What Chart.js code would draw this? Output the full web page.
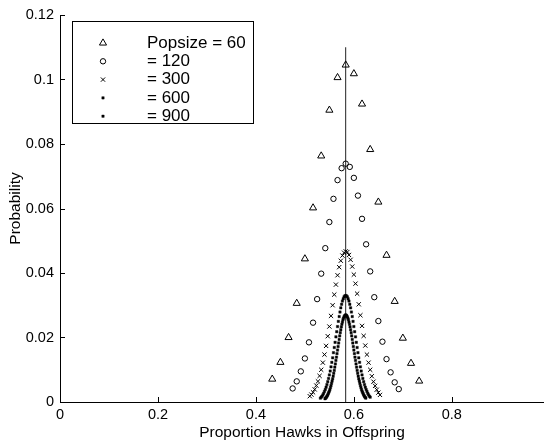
<!DOCTYPE html>
<html>
<head>
<meta charset="utf-8">
<script src="https://cdn.jsdelivr.net/npm/chart.js@4.4.0/dist/chart.umd.min.js"></script>
<style>
  html, body { margin: 0; padding: 0; background: #fff; }
  canvas { display: block; }
</style>
</head>
<body>
<canvas id="hawkChart" width="549" height="440"></canvas>
<script>
// population sizes and legend text
const popSizes = [60, 120, 300, 600, 900];
const legendLabels = ["Popsize = 60", "= 120", "= 300", "= 600", "= 900"];
// first hawk count plotted for each popsize (x = count / popsize)
const firstCount = [26, 57, 153, 319, 487];

// probabilities
const probs60 = [0.0071, 0.0123, 0.0200, 0.0306, 0.0444, 0.0602, 0.0763, 0.0905, 0.1006, 0.1045,
  0.1018, 0.0924, 0.0783, 0.0620, 0.0455, 0.0312, 0.0198, 0.0120, 0.0065];
const probs120 = [0.0042, 0.0064, 0.0095, 0.0135, 0.0185, 0.0246, 0.0319, 0.0398, 0.0477, 0.0558,
  0.0630, 0.0688, 0.0725, 0.0739, 0.0729, 0.0695, 0.0640, 0.0568, 0.0489, 0.0405,
  0.0325, 0.0251, 0.0187, 0.0133, 0.0092, 0.0061, 0.0040];
const probs300 = [0.0018, 0.0023, 0.0030, 0.0039, 0.0051, 0.0064, 0.0081, 0.0100, 0.0122, 0.0147,
  0.0174, 0.0204, 0.0234, 0.0267, 0.0300, 0.0333, 0.0364, 0.0393, 0.0418, 0.0438,
  0.0454, 0.0463, 0.0467, 0.0465, 0.0456, 0.0441, 0.0420, 0.0395, 0.0367, 0.0336,
  0.0303, 0.0269, 0.0236, 0.0205, 0.0175, 0.0147, 0.0122, 0.0100, 0.0080, 0.0063,
  0.0050, 0.0038, 0.0029, 0.0022];
const probs600 = [0.0012, 0.0015, 0.0018, 0.0022, 0.0027, 0.0033, 0.0039, 0.0046, 0.0054, 0.0063,
  0.0073, 0.0084, 0.0096, 0.0109, 0.0123, 0.0137, 0.0153, 0.0169, 0.0185, 0.0202,
  0.0218, 0.0234, 0.0250, 0.0265, 0.0279, 0.0292, 0.0303, 0.0313, 0.0320, 0.0326,
  0.0329, 0.0330, 0.0329, 0.0326, 0.0320, 0.0313, 0.0303, 0.0292, 0.0279, 0.0265,
  0.0250, 0.0234, 0.0218, 0.0202, 0.0185, 0.0169, 0.0153, 0.0137, 0.0123, 0.0109,
  0.0096, 0.0084, 0.0073, 0.0063, 0.0054, 0.0046, 0.0039, 0.0033, 0.0027, 0.0022,
  0.0018, 0.0015];
const probs900 = [0.0010, 0.0012, 0.0014, 0.0016, 0.0019, 0.0022, 0.0026, 0.0030, 0.0034, 0.0039,
  0.0045, 0.0051, 0.0058, 0.0065, 0.0072, 0.0080, 0.0089, 0.0098, 0.0108, 0.0118,
  0.0129, 0.0139, 0.0150, 0.0161, 0.0172, 0.0183, 0.0194, 0.0205, 0.0215, 0.0224,
  0.0233, 0.0241, 0.0248, 0.0255, 0.0260, 0.0264, 0.0267, 0.0269, 0.0270, 0.0269,
  0.0267, 0.0264, 0.0260, 0.0255, 0.0248, 0.0241, 0.0233, 0.0224, 0.0215, 0.0205,
  0.0194, 0.0183, 0.0172, 0.0161, 0.0150, 0.0139, 0.0129, 0.0118, 0.0108, 0.0098,
  0.0089, 0.0080, 0.0072, 0.0065, 0.0058, 0.0051, 0.0045, 0.0039, 0.0034, 0.0030,
  0.0026, 0.0022, 0.0019, 0.0016, 0.0014, 0.0012];
const allProbs = [probs60, probs120, probs300, probs600, probs900];

// vertical mean line
const meanProp = 0.5833;
const meanLineTop = 0.11;

// axis ticks
const xTicks = [0, 0.2, 0.4, 0.6, 0.8];
const yTicks = [0, 0.02, 0.04, 0.06, 0.08, 0.1, 0.12];

const FONT = '"Liberation Sans", Arial, Helvetica, sans-serif';

// marker look for each popsize (matlab ^ o x . .)
const markerStyles = [
  { pointStyle: 'triangle', pointRadius: 4.1, borderWidth: 1, backgroundColor: 'rgba(0,0,0,0)' },
  { pointStyle: 'circle',   pointRadius: 2.7, borderWidth: 1, backgroundColor: 'rgba(0,0,0,0)' },
  { pointStyle: 'crossRot', pointRadius: 3.0, borderWidth: 1, backgroundColor: 'rgba(0,0,0,0)' },
  { pointStyle: 'rect',     pointRadius: 1.7, borderWidth: 0.4, backgroundColor: '#000' },
  { pointStyle: 'rect',     pointRadius: 1.7, borderWidth: 0.4, backgroundColor: '#000' }
];

const datasets = popSizes.map((n, i) => ({
  label: legendLabels[i],
  data: allProbs[i].map((p, j) => ({ x: (firstCount[i] + j) / n, y: p })),
  borderColor: '#000',
  pointHoverRadius: markerStyles[i].pointRadius,
  ...markerStyles[i]
}));

datasets.push({
  label: 'mean',
  data: [{ x: meanProp, y: 0 }, { x: meanProp, y: meanLineTop }],
  showLine: true,
  borderColor: '#222',
  borderWidth: 1,
  pointRadius: 0
});

// matlab style inward tick marks
const inwardTicks = {
  id: 'inwardTicks',
  afterDraw(chart) {
    const { ctx, chartArea: a, scales: { x, y } } = chart;
    ctx.save();
    ctx.strokeStyle = '#000';
    ctx.lineWidth = 1;
    ctx.beginPath();
    for (const v of xTicks) {
      const px = Math.round(x.getPixelForValue(v)) + 0.5;
      ctx.moveTo(px, a.bottom);
      ctx.lineTo(px, a.bottom - 5);
    }
    for (const v of yTicks) {
      const py = Math.round(y.getPixelForValue(v)) + 0.5;
      ctx.moveTo(a.left, py);
      ctx.lineTo(a.left + 5, py);
    }
    ctx.stroke();
    ctx.restore();
  }
};

// boxed legend in upper left
const boxLegend = {
  id: 'boxLegend',
  afterDraw(chart) {
    const ctx = chart.ctx;
    ctx.save();
    ctx.fillStyle = '#fff';
    ctx.strokeStyle = '#000';
    ctx.lineWidth = 1;
    ctx.fillRect(72.5, 21.5, 181, 102);
    ctx.strokeRect(72.5, 21.5, 181, 102);
    chart.data.datasets.slice(0, legendLabels.length).forEach((ds, i) => {
      const yy = 43 + i * 18.3;
      ctx.fillStyle = ds.backgroundColor;
      ctx.strokeStyle = ds.borderColor;
      ctx.lineWidth = ds.borderWidth;
      Chart.helpers.drawPoint(ctx, { pointStyle: ds.pointStyle, radius: ds.pointRadius, rotation: 0, borderWidth: ds.borderWidth }, 103, yy);
      ctx.fillStyle = '#000';
      ctx.font = '17px ' + FONT;
      ctx.textAlign = 'left';
      ctx.textBaseline = 'middle';
      ctx.fillText(ds.label, 147, yy);
    });
    ctx.restore();
  }
};

new Chart(document.getElementById('hawkChart'), {
  type: 'scatter',
  data: { datasets },
  options: {
    responsive: false,
    animation: false,
    devicePixelRatio: 1,
    events: [],
    layout: { padding: { top: 15, right: 1, left: 0, bottom: 0 } },
    plugins: { legend: { display: false }, tooltip: { enabled: false } },
    scales: {
      x: {
        type: 'linear',
        min: 0,
        max: 0.988,
        afterBuildTicks: s => { s.ticks = xTicks.map(v => ({ value: v })); },
        afterFit: s => { s.height = 38; },
        grid: { display: false, drawTicks: false },
        border: { display: true, color: '#000', width: 1 },
        ticks: { color: '#000', font: { family: FONT, size: 14.5 }, padding: 4, maxRotation: 0, autoSkip: false, callback: v => String(v) },
        title: { display: true, text: 'Proportion Hawks in Offspring', color: '#000', font: { family: FONT, size: 15.5, lineHeight: 1 }, padding: 0 }
      },
      y: {
        type: 'linear',
        min: 0,
        max: 0.12,
        afterBuildTicks: s => { s.ticks = yTicks.map(v => ({ value: v })); },
        afterFit: s => { s.width = 60; },
        grid: { display: false, drawTicks: false },
        border: { display: true, color: '#000', width: 1 },
        ticks: { color: '#000', font: { family: FONT, size: 14.5 }, padding: 6, callback: v => String(v) },
        title: { display: true, text: 'Probability', color: '#000', font: { family: FONT, size: 15.5 }, padding: { top: 6, bottom: 0 } }
      }
    }
  },
  plugins: [inwardTicks, boxLegend]
});
</script>
</body>
</html>
